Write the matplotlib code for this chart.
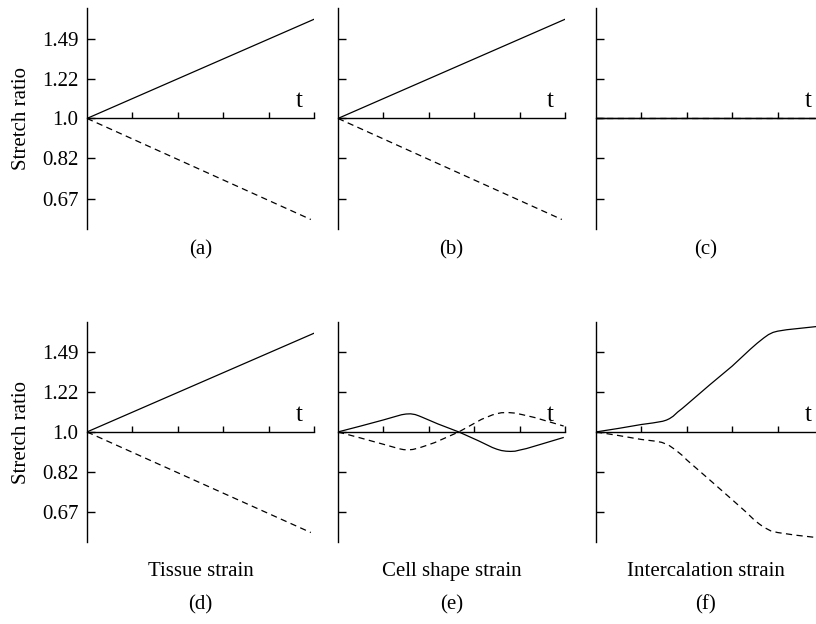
import numpy as np
import matplotlib
matplotlib.use('Agg')
import matplotlib.pyplot as plt

plt.rcParams['font.family'] = ['Liberation Serif', 'DejaVu Serif']

# y ticks (stretch ratio, log spaced)
ytick_vals = [0.67, 0.82, 1.0, 1.22, 1.49]
ytick_labels = ['0.67', '0.82', '1.0', '1.22', '1.49']
xtick_vals = [1, 2, 3, 4, 5]

# straight lines (a, b, d)
lin_t_solid = [0.0, 5.0]
lin_solid = [1.0, 1.64]
lin_t_dashed = [0.0, 4.93]
lin_dashed = [1.0, 0.604]

# (c) flat
flat_t = [0.0, 5.0]
flat_vals = [1.0, 1.0]

# (e) cell shape strain
e_t_solid = [0, 0.5, 1.0, 1.2, 1.3, 1.4, 1.5, 1.6, 1.7, 1.78, 1.84, 2.2, 2.66, 3.1, 3.4, 3.5, 3.6, 3.7,
             3.8, 3.9, 4.0, 4.15, 4.5, 4.96]
e_solid = [1.0, 1.030, 1.062, 1.076, 1.083, 1.090, 1.094, 1.095, 1.091, 1.084, 1.078, 1.041, 1.0, 0.956,
           0.925, 0.917, 0.911, 0.908, 0.907, 0.908, 0.913, 0.920, 0.942, 0.972]
e_t_dashed = [0, 0.5, 1.0, 1.2, 1.35, 1.45, 1.55, 1.65, 1.8, 1.9, 2.13, 2.66, 3.16, 3.4, 3.5, 3.6, 3.75,
              3.9, 4.05, 4.33, 4.97]
e_dashed = [1.0, 0.970, 0.940, 0.928, 0.919, 0.915, 0.914, 0.916, 0.924, 0.931, 0.948, 1.0, 1.065, 1.089,
            1.096, 1.101, 1.102, 1.099, 1.091, 1.075, 1.030]

# (f) intercalation strain
f_t_solid = [0, 0.5, 1.0, 1.25, 1.35, 1.47, 1.55, 1.62, 1.7, 1.8, 1.9, 2.0, 2.5, 3.0, 3.4, 3.55, 3.7, 3.8,
             3.9, 4.0, 4.2, 4.86]
f_solid = [1.0, 1.018, 1.038, 1.046, 1.050, 1.055, 1.061, 1.069, 1.082, 1.105, 1.125, 1.147, 1.265, 1.391,
           1.514, 1.560, 1.603, 1.629, 1.647, 1.657, 1.669, 1.696]
f_t_dashed = [0, 0.5, 1.0, 1.3, 1.45, 1.6, 1.75, 1.9, 2.0, 2.5, 3.0, 3.3, 3.48, 3.6, 3.7, 3.85, 4.0, 4.4, 4.86]
f_dashed = [1.0, 0.982, 0.963, 0.955, 0.949, 0.936, 0.914, 0.889, 0.869, 0.787, 0.712, 0.670, 0.644, 0.630,
            0.620, 0.609, 0.604, 0.596, 0.589]

panel_letters = ['(a)', '(b)', '(c)', '(d)', '(e)', '(f)']
col_titles = ['Tissue strain', 'Cell shape strain', 'Intercalation strain']

W, H = 816, 624
fig = plt.figure(figsize=(W / 100, H / 100), dpi=100)

col_left = [87, 338, 596]
ax_w = 227
rows = [(8, 229), (322, 542)]

panels = [
    (lin_t_solid, lin_solid, lin_t_dashed, lin_dashed),
    (lin_t_solid, lin_solid, lin_t_dashed, lin_dashed),
    (flat_t, flat_vals, flat_t, flat_vals),
    (lin_t_solid, lin_solid, lin_t_dashed, lin_dashed),
    (e_t_solid, e_solid, e_t_dashed, e_dashed),
    (f_t_solid, f_solid, f_t_dashed, f_dashed),
]

fs = 15
for i, (ts, ys, td, yd) in enumerate(panels):
    r, c = divmod(i, 3)
    top, bot = rows[r]
    ax = fig.add_axes([col_left[c] / W, 1 - bot / H, ax_w / W, (bot - top) / H])
    ax.plot(td, yd, color='black', lw=0.9, ls=(0, (5, 3.5)))
    ax.plot(ts, ys, color='black', lw=0.9)
    ax.set_yscale('log')
    ax.set_ylim(0.576, 1.735)
    ax.set_xlim(0, 5)
    ax.yaxis.set_minor_locator(matplotlib.ticker.NullLocator())
    ax.set_yticks(ytick_vals)
    ax.set_xticks(xtick_vals)
    ax.set_xticklabels([])
    if c == 0:
        ax.set_yticklabels(ytick_labels, fontsize=fs)
        ax.set_ylabel('Stretch ratio', fontsize=fs)
        ax.yaxis.set_label_coords(-0.245, 0.5)
    else:
        ax.set_yticklabels([])
    for s in ['top', 'right']:
        ax.spines[s].set_visible(False)
    ax.spines['bottom'].set_position(('data', 1.0))
    ax.spines['left'].set_linewidth(1.0)
    ax.spines['bottom'].set_linewidth(1.0)
    ax.tick_params(axis='y', direction='in', length=6, width=1.0, pad=6)
    ax.tick_params(axis='x', direction='in', length=4, width=1.0)
    ax.text(4.68, 1.057, 't', fontsize=fs + 3, ha='center', va='baseline')
    ax.patch.set_alpha(0)

    cx = (col_left[c] + ax_w / 2) / W
    if c == 2:
        cx = (col_left[c] + ax_w / 2 - 3.5) / W
    if r == 0:
        fig.text(cx, 1 - 250 / H, panel_letters[i], ha='center', va='center', fontsize=fs)
    else:
        fig.text(cx, 1 - 576 / H, col_titles[c], ha='center', va='baseline', fontsize=fs)
        fig.text(cx, 1 - 605 / H, panel_letters[i], ha='center', va='center', fontsize=fs)

fig.savefig('out.png', dpi=100)
